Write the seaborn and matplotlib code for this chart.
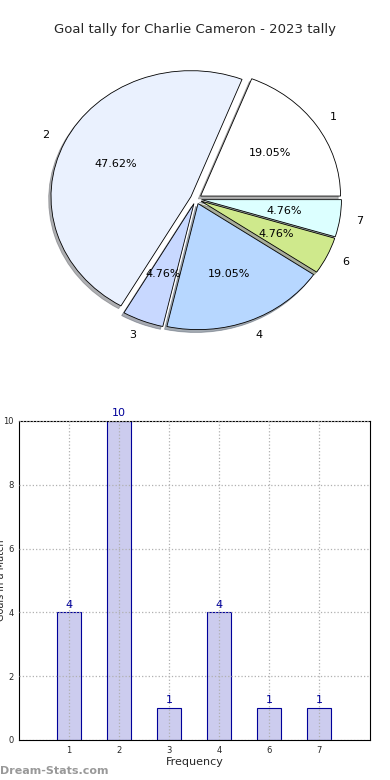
import matplotlib
matplotlib.use("Agg")
import matplotlib.pyplot as plt
import seaborn as sns
import pandas as pd

goals = ["1", "2", "3", "4", "6", "7"]
matches = [4, 10, 1, 4, 1, 1]
pie_colors = ["#ffffff", "#eaf1fe", "#c8d8ff", "#b7d7ff", "#cfe98c", "#dcffff"]

title = "Goal tally for Charlie Cameron - 2023 tally"
xlabel = "Frequency"
ylabel = "Goals in a Match"
watermark = "Dream-Stats.com"

sns.set_theme(style="white")
plt.rcParams["font.family"] = ["DejaVu Sans"]

fig = plt.figure(figsize=(3.9, 7.8), dpi=100)

# Pie chart
ax1 = fig.add_axes([0.054, 0.543, 0.897, 0.404])
wedges, texts, autotexts = ax1.pie(
    matches, labels=goals, colors=pie_colors, autopct="%.2f%%",
    explode=[0.04] * len(matches),
    shadow=dict(ox=-0.012, oy=-0.016, shade=0.6),
    startangle=0, labeldistance=1.12, pctdistance=0.6,
    wedgeprops=dict(edgecolor="black", linewidth=0.6),
    textprops=dict(fontsize=8, color="black"))
ax1.set_aspect("auto")
ax1.set_xlim(-1.25, 1.25)
ax1.set_ylim(-1.25, 1.25)
fig.text(0.5, 0.962, title, ha="center", va="center", fontsize=9.5)

# Bar chart
ax2 = fig.add_axes([0.0487, 0.0513, 0.9, 0.409])
df = pd.DataFrame({"goals": goals, "matches": matches})
sns.barplot(data=df, x="goals", y="matches", color="#ccccee", saturation=1,
            edgecolor="#000099", linewidth=0.8, width=0.47, ax=ax2, zorder=1)
ax2.set_xlim(-1, 6.02)
ax2.set_ylim(0, 10)
ax2.set_yticks([0, 2, 4, 6, 8, 10])
ax2.grid(True, linestyle=":", color="#b0b0b0", linewidth=0.9, zorder=3)
ax2.set_axisbelow(False)
for sp in ax2.spines.values():
    sp.set_color("black")
    sp.set_linewidth(0.8)
ax2.tick_params(axis="both", labelsize=6, length=3, direction="in", color="black", pad=4)
ax2.set_xlabel(xlabel, fontsize=8, labelpad=2)
ax2.set_ylabel("")
for i, v in enumerate(matches):
    ax2.annotate(str(v), (i, v), xytext=(0, 2), textcoords="offset points",
                 ha="center", va="bottom", fontsize=8, color="#000099")
fig.text(0.002, 0.256, ylabel, rotation=90, ha="center", va="center", fontsize=7)
fig.text(0.0, 0.012, watermark, ha="left", va="center", fontsize=8,
         color="#999999", fontweight="bold")

fig.savefig("out.png", dpi=100)
